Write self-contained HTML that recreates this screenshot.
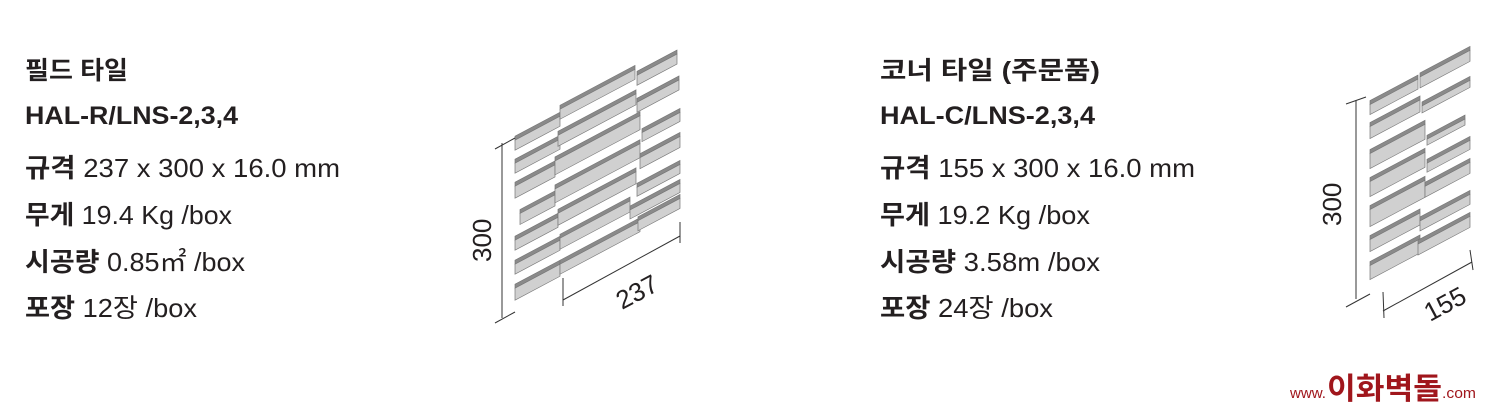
<!DOCTYPE html>
<html><head><meta charset="utf-8"><style>
html,body{margin:0;padding:0;background:#fff;}
svg{display:block}
text{font-family:"Liberation Sans","Noto Sans CJK KR",sans-serif;fill:#231f20}
.b{font-weight:bold}
</style></head><body>
<svg width="1492" height="406" viewBox="0 0 1492 406" xmlns="http://www.w3.org/2000/svg">
<!-- left text -->
<text x="25" y="79" font-size="25" class="b" textLength="103" lengthAdjust="spacingAndGlyphs">필드 타일</text>
<text x="25" y="124" font-size="25" class="b" textLength="213" lengthAdjust="spacingAndGlyphs">HAL-R/LNS-2,3,4</text>
<text x="25" y="177" font-size="26" textLength="315" lengthAdjust="spacingAndGlyphs"><tspan class="b">규격</tspan> 237 x 300 x 16.0 mm</text>
<text x="25" y="224" font-size="26" textLength="207" lengthAdjust="spacingAndGlyphs"><tspan class="b">무게</tspan> 19.4 Kg /box</text>
<text x="25" y="271" font-size="26" textLength="220" lengthAdjust="spacingAndGlyphs"><tspan class="b">시공량</tspan> 0.85㎡ /box</text>
<text x="25" y="317" font-size="26" textLength="172" lengthAdjust="spacingAndGlyphs"><tspan class="b">포장</tspan> 12장 /box</text>
<!-- right text -->
<text x="880" y="79" font-size="25" class="b" textLength="220" lengthAdjust="spacingAndGlyphs">코너 타일 (주문품)</text>
<text x="880" y="124" font-size="25" class="b" textLength="215" lengthAdjust="spacingAndGlyphs">HAL-C/LNS-2,3,4</text>
<text x="880" y="177" font-size="26" textLength="315" lengthAdjust="spacingAndGlyphs"><tspan class="b">규격</tspan> 155 x 300 x 16.0 mm</text>
<text x="880" y="224" font-size="26" textLength="210" lengthAdjust="spacingAndGlyphs"><tspan class="b">무게</tspan> 19.2 Kg /box</text>
<text x="880" y="271" font-size="26" textLength="220" lengthAdjust="spacingAndGlyphs"><tspan class="b">시공량</tspan> 3.58m /box</text>
<text x="880" y="317" font-size="26" textLength="173" lengthAdjust="spacingAndGlyphs"><tspan class="b">포장</tspan> 24장 /box</text>

<!-- left tile -->
<g stroke="#777" stroke-width="0.7" transform="skewY(-28)">
 <rect x="515" y="410" width="45" height="4" fill="#8a8a8a"/><rect x="515" y="414" width="45" height="10" fill="#d0d0d0"/>
 <rect x="560" y="403" width="75" height="4" fill="#8a8a8a"/><rect x="560" y="407" width="75" height="10" fill="#d0d0d0"/>
 <rect x="637" y="410" width="40" height="4" fill="#8a8a8a"/><rect x="637" y="414" width="40" height="10" fill="#d0d0d0"/>

 <rect x="515" y="433" width="45" height="4" fill="#8a8a8a"/><rect x="515" y="437" width="45" height="10" fill="#d0d0d0"/>
 <rect x="558" y="428" width="78" height="4" fill="#8a8a8a"/><rect x="558" y="432" width="78" height="11" fill="#d0d0d0"/>
 <rect x="637" y="437" width="42" height="4" fill="#8a8a8a"/><rect x="637" y="441" width="42" height="10" fill="#d0d0d0"/>

 <rect x="515" y="456" width="40" height="4" fill="#8a8a8a"/><rect x="515" y="460" width="40" height="12" fill="#d0d0d0"/>
 <rect x="555" y="452" width="85" height="4" fill="#8a8a8a"/><rect x="555" y="456" width="85" height="14" fill="#d0d0d0"/>
 <rect x="642" y="470" width="38" height="4" fill="#8a8a8a"/><rect x="642" y="474" width="38" height="9" fill="#d0d0d0"/>

 <rect x="520" y="486" width="35" height="4" fill="#8a8a8a"/><rect x="520" y="490" width="35" height="11" fill="#d0d0d0"/>
 <rect x="555" y="480" width="85" height="4" fill="#8a8a8a"/><rect x="555" y="484" width="85" height="14" fill="#d0d0d0"/>
 <rect x="640" y="494" width="40" height="4" fill="#8a8a8a"/><rect x="640" y="498" width="40" height="11" fill="#d0d0d0"/>

 <rect x="515" y="510" width="43" height="4" fill="#8a8a8a"/><rect x="515" y="514" width="43" height="10" fill="#d0d0d0"/>
 <rect x="558" y="506" width="78" height="4" fill="#8a8a8a"/><rect x="558" y="510" width="78" height="12" fill="#d0d0d0"/>
 <rect x="637" y="522" width="43" height="4" fill="#8a8a8a"/><rect x="637" y="526" width="43" height="9" fill="#d0d0d0"/>

 <rect x="515" y="534" width="45" height="4" fill="#8a8a8a"/><rect x="515" y="538" width="45" height="10" fill="#d0d0d0"/>
 <rect x="560" y="532" width="70" height="4" fill="#8a8a8a"/><rect x="560" y="536" width="70" height="11" fill="#d0d0d0"/>
 <rect x="630" y="541" width="50" height="4" fill="#8a8a8a"/><rect x="630" y="545" width="50" height="9" fill="#d0d0d0"/>

 <rect x="515" y="558" width="45" height="4" fill="#8a8a8a"/><rect x="515" y="562" width="45" height="12" fill="#d0d0d0"/>
 <rect x="560" y="558" width="80" height="4" fill="#8a8a8a"/><rect x="560" y="562" width="80" height="10" fill="#d0d0d0"/>
 <rect x="638" y="556" width="42" height="4" fill="#8a8a8a"/><rect x="638" y="560" width="42" height="10" fill="#d0d0d0"/>
</g>
<!-- left dims -->
<g stroke="#333" stroke-width="1" fill="none">
 <line x1="502" y1="143" x2="502" y2="318"/>
 <line x1="495" y1="149" x2="515" y2="138"/>
 <line x1="495" y1="323" x2="515" y2="312"/>
 <line x1="563" y1="278" x2="563" y2="306"/>
 <line x1="680" y1="222" x2="680" y2="243"/>
 <line x1="563" y1="300" x2="680" y2="236"/>
</g>
<text x="0" y="0" font-size="26" fill="#333" transform="translate(491,262) rotate(-90)">300</text>
<text x="0" y="0" font-size="26" fill="#333" transform="translate(622,310) rotate(-28)">237</text>

<!-- right tile -->
<g stroke="#777" stroke-width="0.7" transform="skewY(-28)">
 <rect x="1370" y="829" width="48" height="4" fill="#8a8a8a"/><rect x="1370" y="833" width="48" height="10" fill="#d0d0d0"/>
 <rect x="1420" y="828" width="50" height="4" fill="#8a8a8a"/><rect x="1420" y="832" width="50" height="11" fill="#d0d0d0"/>

 <rect x="1370" y="851" width="50" height="4" fill="#8a8a8a"/><rect x="1370" y="855" width="50" height="12" fill="#d0d0d0"/>
 <rect x="1422" y="858" width="48" height="4" fill="#8a8a8a"/><rect x="1422" y="862" width="48" height="7" fill="#d0d0d0"/>

 <rect x="1370" y="878" width="55" height="4" fill="#8a8a8a"/><rect x="1370" y="882" width="55" height="15" fill="#d0d0d0"/>
 <rect x="1427" y="894" width="38" height="4" fill="#8a8a8a"/><rect x="1427" y="898" width="38" height="6" fill="#d0d0d0"/>

 <rect x="1370" y="906" width="55" height="4" fill="#8a8a8a"/><rect x="1370" y="910" width="55" height="15" fill="#d0d0d0"/>
 <rect x="1427" y="918" width="43" height="4" fill="#8a8a8a"/><rect x="1427" y="922" width="43" height="9" fill="#d0d0d0"/>

 <rect x="1370" y="934" width="55" height="4" fill="#8a8a8a"/><rect x="1370" y="938" width="55" height="17" fill="#d0d0d0"/>
 <rect x="1425" y="940" width="45" height="4" fill="#8a8a8a"/><rect x="1425" y="944" width="45" height="11" fill="#d0d0d0"/>

 <rect x="1370" y="964" width="50" height="4" fill="#8a8a8a"/><rect x="1370" y="968" width="50" height="12" fill="#d0d0d0"/>
 <rect x="1420" y="972" width="50" height="4" fill="#8a8a8a"/><rect x="1420" y="976" width="50" height="10" fill="#d0d0d0"/>

 <rect x="1370" y="990" width="50" height="4" fill="#8a8a8a"/><rect x="1370" y="994" width="50" height="14" fill="#d0d0d0"/>
 <rect x="1418" y="994" width="52" height="4" fill="#8a8a8a"/><rect x="1418" y="998" width="52" height="11" fill="#d0d0d0"/>
</g>
<g stroke="#333" stroke-width="1" fill="none">
 <line x1="1356" y1="100" x2="1356" y2="299"/>
 <line x1="1346" y1="104" x2="1366" y2="97"/>
 <line x1="1346" y1="307" x2="1370" y2="294"/>
 <line x1="1383" y1="292" x2="1384" y2="318"/>
 <line x1="1470" y1="250" x2="1473" y2="270"/>
 <line x1="1383" y1="311" x2="1472" y2="262"/>
</g>
<text x="0" y="0" font-size="26" fill="#333" transform="translate(1341,226) rotate(-90)">300</text>
<text x="0" y="0" font-size="26" fill="#333" transform="translate(1430,322) rotate(-28)">155</text>

<!-- footer -->
<text x="1290" y="398" font-size="15" style="fill:#a0161c" textLength="36" lengthAdjust="spacingAndGlyphs">www.</text>
<text x="1327" y="399" font-size="30" class="b" style="fill:#a0161c" textLength="115" lengthAdjust="spacingAndGlyphs">이화벽돌</text>
<text x="1442" y="398" font-size="15" style="fill:#a0161c" textLength="34" lengthAdjust="spacingAndGlyphs">.com</text>
</svg>
</body></html>
